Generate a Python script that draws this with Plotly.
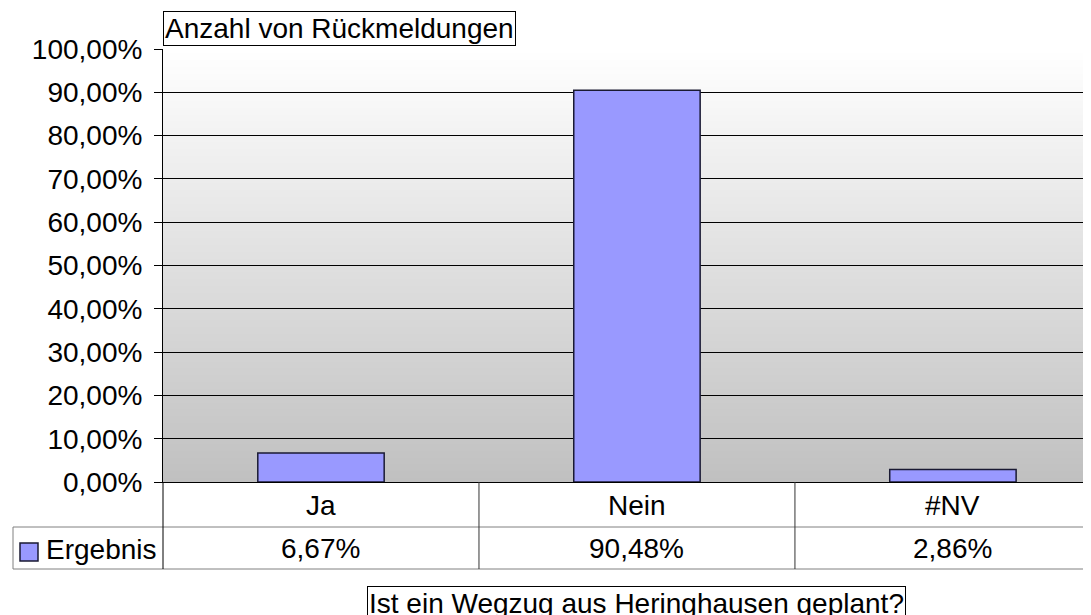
import zlib, struct, base64
import plotly.graph_objects as go

# ---- data ----
categories = ["Ja", "Nein", "#NV"]
values_pct = [6.67, 90.48, 2.86]          # Ergebnis, percent
series_name = "Ergebnis"
chart_title = "Anzahl von Rückmeldungen"
axis_title = "Ist ein Wegzug aus Heringhausen geplant?"
y_ticks = [i / 10 for i in range(11)]

# ---- layout constants (pixels, page coordinates) ----
OFF = 8                        # default body margin of the html page
W, H = 1091 - OFF, 615 - OFF   # figure size
L_PAGE, T_PAGE, B_PAGE = 163, 49, 482
L, T = L_PAGE - OFF, T_PAGE - OFF
PW, PH = 1091 - L_PAGE, B_PAGE - T_PAGE
FONT = "Liberation Sans, Arial, sans-serif"
FS = 28

def px(xp):
    return (xp - L_PAGE) / PW

def py(yp):
    return (B_PAGE - yp) / PH

def gradient_png(top=255, bottom=192, h=433):
    rows = []
    for i in range(h):
        g = round(top + (bottom - top) * i / (h - 1))
        rows.append(b"\x00" + bytes([g, g, g]) * 2)
    raw = b"".join(rows)

    def chunk(t, d):
        c = struct.pack(">I", len(d)) + t + d
        return c + struct.pack(">I", zlib.crc32(t + d) & 0xFFFFFFFF)

    png = (b"\x89PNG\r\n\x1a\n"
           + chunk(b"IHDR", struct.pack(">IIBBBBB", 2, h, 8, 2, 0, 0, 0))
           + chunk(b"IDAT", zlib.compress(raw))
           + chunk(b"IEND", b""))
    return "data:image/png;base64," + base64.b64encode(png).decode()

def de_pct(v):
    return f"{v:.2f}".replace(".", ",") + "%"

fig = go.Figure()
fig.add_trace(go.Bar(
    x=categories,
    y=[v / 100 for v in values_pct],
    name=series_name,
    width=0.4,
    marker=dict(color="#9999ff", line=dict(color="#1a1a33", width=1.5)),
    hoverinfo="skip",
    showlegend=False,
))

fig.update_layout(
    width=W, height=H,
    margin=dict(l=L, r=0, t=T, b=H - (B_PAGE - OFF), pad=0),
    paper_bgcolor="white",
    plot_bgcolor="white",
    separators=",.",
    font=dict(family=FONT, size=FS, color="black"),
    xaxis=dict(
        type="category",
        range=[-0.5, 2.437],
        showticklabels=False,
        showgrid=False,
        showline=True, linecolor="black", linewidth=1,
        ticks="",
        fixedrange=True,
        zeroline=False,
    ),
    yaxis=dict(
        range=[0, 1],
        tickvals=y_ticks,
        tickformat=".2%",
        ticks="outside", ticklen=8, tickcolor="black", tickwidth=1,
        ticklabelstandoff=6,
        showgrid=True, gridcolor="black", gridwidth=1,
        showline=True, linecolor="black", linewidth=1,
        zeroline=False,
        fixedrange=True,
        tickfont=dict(family=FONT, size=FS, color="black"),
    ),
    images=[dict(
        source=gradient_png(h=PH),
        xref="paper", yref="paper",
        x=0, y=1, sizex=1, sizey=1,
        xanchor="left", yanchor="top",
        sizing="stretch", layer="below",
    )],
)

shapes = []
GRAY = "#808080"
DARK = "#333333"
# table horizontal lines
for yl in (527, 569):
    shapes.append(dict(type="line", xref="paper", yref="paper",
                       x0=px(13), x1=1.0, y0=py(yl), y1=py(yl),
                       line=dict(color=GRAY, width=1)))
# legend cell left border
shapes.append(dict(type="line", xref="paper", yref="paper",
                   x0=px(13), x1=px(13), y0=py(527), y1=py(569),
                   line=dict(color=GRAY, width=1)))
# left vertical (continuation of the y axis)
shapes.append(dict(type="line", xref="paper", yref="paper",
                   x0=0, x1=0, y0=0, y1=py(569),
                   line=dict(color="black", width=1)))
# category dividers
for xd in (0.5, 1.5):
    shapes.append(dict(type="line", xref="x", yref="paper",
                       x0=xd, x1=xd, y0=0, y1=py(569),
                       line=dict(color=DARK, width=1)))
# legend swatch
shapes.append(dict(type="rect", xref="paper", yref="paper",
                   x0=px(20), x1=px(38), y0=py(561), y1=py(543),
                   fillcolor="#9999ff", line=dict(color="#1a1a33", width=1.5)))
fig.update_layout(shapes=shapes)

ann = []
for c, v in zip(categories, values_pct):
    ann.append(dict(x=c, xref="x", y=py(505), yref="paper", text=c,
                    showarrow=False, xanchor="center", yanchor="middle",
                    font=dict(size=FS)))
    ann.append(dict(x=c, xref="x", y=py(548), yref="paper", text=de_pct(v),
                    showarrow=False, xanchor="center", yanchor="middle",
                    font=dict(size=FS)))
ann.append(dict(x=px(44), xref="paper", y=py(549), yref="paper", text=series_name,
                showarrow=False, xanchor="left", yanchor="middle",
                font=dict(size=FS)))
ann.append(dict(x=0, xref="paper", y=py(46), yref="paper", text=chart_title,
                showarrow=False, xanchor="left", yanchor="bottom",
                bordercolor="black", borderwidth=1, borderpad=1,
                bgcolor="white", font=dict(size=FS)))
ann.append(dict(x=1, xref="x", y=py(586), yref="paper", text=axis_title,
                showarrow=False, xanchor="center", yanchor="top",
                bordercolor="black", borderwidth=1, borderpad=1,
                bgcolor="white", font=dict(size=FS)))
fig.update_layout(annotations=ann)

fig.write_html("out.html")
